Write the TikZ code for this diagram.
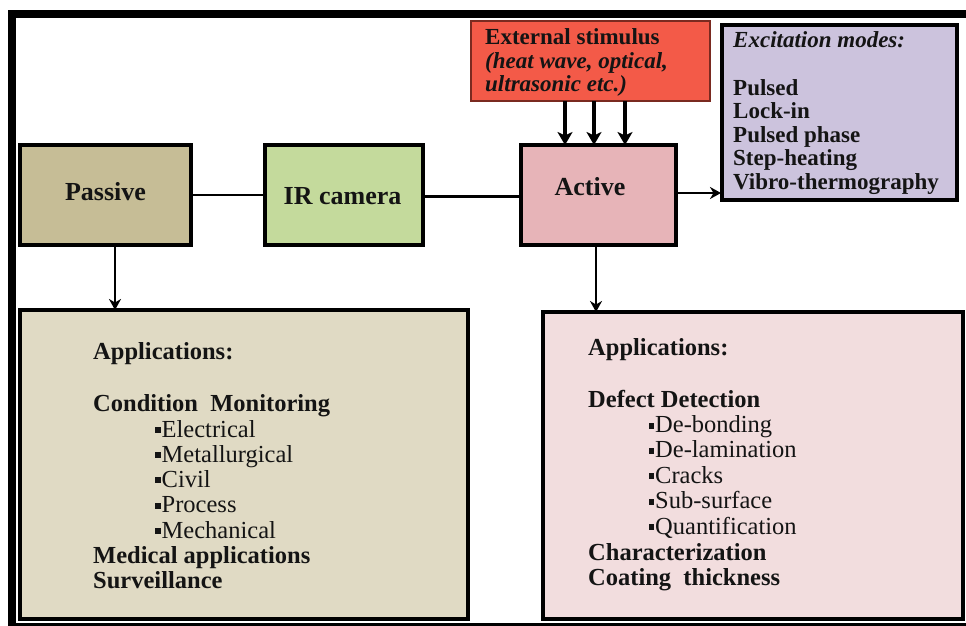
\documentclass[tikz,border=0pt]{standalone}
\usepackage{fontspec}
\setmainfont{Liberation Serif}
\usetikzlibrary{calc,arrows.meta}
\definecolor{passivefill}{HTML}{C6BD96}
\definecolor{camfill}{HTML}{C4DA9C}
\definecolor{activefill}{HTML}{E7B4B8}
\definecolor{stimfill}{HTML}{F35A48}
\definecolor{stimdraw}{HTML}{7A2A20}
\definecolor{excitefill}{HTML}{CCC3DD}
\definecolor{leftappfill}{HTML}{E0DAC4}
\definecolor{rightappfill}{HTML}{F2DDDE}
\definecolor{ink}{HTML}{141414}
\newcommand{\sqbul}{\rule[4pt]{5.5pt}{6pt}\hspace{1pt}}
\begin{document}
\begin{tikzpicture}[x=1pt,y=-1pt,
  box/.style={draw=black,line width=4.5pt,inner sep=0pt,outer sep=0pt},
  lbl/.style={font=\fontsize{26}{28}\selectfont\bfseries,inner sep=0pt,anchor=base,text=ink},
  apptxt/.style={anchor=base west,inner sep=0pt,font=\fontsize{24.5}{26}\selectfont,text=ink},
  exctxt/.style={anchor=base west,inner sep=0pt,font=\fontsize{23}{25}\selectfont\bfseries,text=ink},
  conn/.style={line width=2.5pt},
  arr/.style={line width=2.2pt,-{Stealth[length=11pt,width=12pt,inset=3.5pt]}},
  bigarr/.style={line width=4pt,-{Stealth[length=13pt,width=15pt,inset=3.5pt]}}]
% canvas
\fill[white] (0,0) rectangle (966,626);
\useasboundingbox (0,0) rectangle (966,626);
% outer frame
\fill[black] (8,10) rectangle (966,18);
\fill[black] (8,10) rectangle (16,626);
\fill[black] (8,622.5) rectangle (966,626);

% boxes
\node[box,fill=passivefill,minimum width=171pt,minimum height=100pt] (passive) at (105.5,195) {};
\node[box,fill=camfill,minimum width=158pt,minimum height=100pt] (ircam) at (344,195) {};
\node[box,fill=activefill,minimum width=155pt,minimum height=100pt] (active) at (598.5,195) {};
\node[draw=stimdraw,line width=1.2pt,fill=stimfill,inner sep=0pt,outer sep=0pt,minimum width=239pt,minimum height=80pt] (stim) at (590.5,61) {};
\node[box,fill=excitefill,minimum width=235pt,minimum height=175pt] (excite) at (839.5,112.5) {};
\node[box,line width=4pt,fill=leftappfill,minimum width=448pt,minimum height=309pt] (leftapp) at (244,464.5) {};
\node[box,line width=4pt,fill=rightappfill,minimum width=420pt,minimum height=307pt] (rightapp) at (752.5,465.5) {};

% box labels
\node[lbl] (passivelbl) at (105.5,200) {Passive};
\node[lbl] (ircamlbl) at (342.5,204) {IR camera};
\node[lbl] (activelbl) at (590,195) {Active};

% stimulus text
\node[exctxt] (st1) at (485,45) {External stimulus};
\node[exctxt] (st2) at (485,68.5) {\itshape (heat wave, optical,};
\node[exctxt] (st3) at (485,92) {\itshape ultrasonic etc.)};

% excitation text
\node[exctxt] (ex0) at (733,48) {\itshape Excitation modes:};
\node[exctxt] (ex1) at (733,95) {Pulsed};
\node[exctxt] (ex2) at (733,118.5) {Lock-in};
\node[exctxt] (ex3) at (733,142) {Pulsed phase};
\node[exctxt] (ex4) at (733,165.5) {Step-heating};
\node[exctxt] (ex5) at (733,189) {Vibro-thermography};

% left applications text
\node[apptxt,font=\fontsize{24.5}{26}\selectfont\bfseries] (la0) at (93,359) {Applications:};
\node[apptxt,font=\fontsize{24.5}{26}\selectfont\bfseries] (la1) at (93,411) {Condition\ \ Monitoring};
\node[apptxt] (la2) at (155,437) {\sqbul Electrical};
\node[apptxt] (la3) at (155,462) {\sqbul Metallurgical};
\node[apptxt] (la4) at (155,487) {\sqbul Civil};
\node[apptxt] (la5) at (155,512.5) {\sqbul Process};
\node[apptxt] (la6) at (155,538) {\sqbul Mechanical};
\node[apptxt,font=\fontsize{24.5}{26}\selectfont\bfseries] (la7) at (93,563) {Medical applications};
\node[apptxt,font=\fontsize{24.5}{26}\selectfont\bfseries] (la8) at (93,588) {Surveillance};

% right applications text
\node[apptxt,font=\fontsize{24.5}{26}\selectfont\bfseries] (ra0) at (588,355) {Applications:};
\node[apptxt,font=\fontsize{24.5}{26}\selectfont\bfseries] (ra1) at (588,407) {Defect Detection};
\node[apptxt] (ra2) at (648.5,432.5) {\sqbul De-bonding};
\node[apptxt] (ra3) at (648.5,457.5) {\sqbul De-lamination};
\node[apptxt] (ra4) at (648.5,483) {\sqbul Cracks};
\node[apptxt] (ra5) at (648.5,508.5) {\sqbul Sub-surface};
\node[apptxt] (ra6) at (648.5,534) {\sqbul Quantification};
\node[apptxt,font=\fontsize{24.5}{26}\selectfont\bfseries] (ra7) at (588,560) {Characterization};
\node[apptxt,font=\fontsize{24.5}{26}\selectfont\bfseries] (ra8) at (588,585) {Coating\ \ thickness};

% connectors
\draw[conn] (passive.east) -- (ircam.west);
\draw[conn] ($(ircam.east)+(0,1.5)$) -- ($(active.west)+(0,1.5)$);
\draw[arr] ($(active.east)+(0,-2)$) -- ($(active.east -| excite.west)+(-1,-2)$);
\draw[bigarr] ($(stim.south)+(-25.5,0)$) -- ($(active.north)+(-33.5,0)$);
\draw[bigarr] ($(stim.south)+(3.5,0)$) -- ($(active.north)+(-4.5,0)$);
\draw[bigarr] ($(stim.south)+(34.5,0)$) -- ($(active.north)+(26.5,0)$);
\draw[arr] ($(passive.south)+(9.5,0)$) -- ($(leftapp.north)+(-129,0)$);
\draw[arr] ($(active.south)+(-2.5,0)$) -- ($(rightapp.north)+(-156.5,0)$);
\end{tikzpicture}
\end{document}
